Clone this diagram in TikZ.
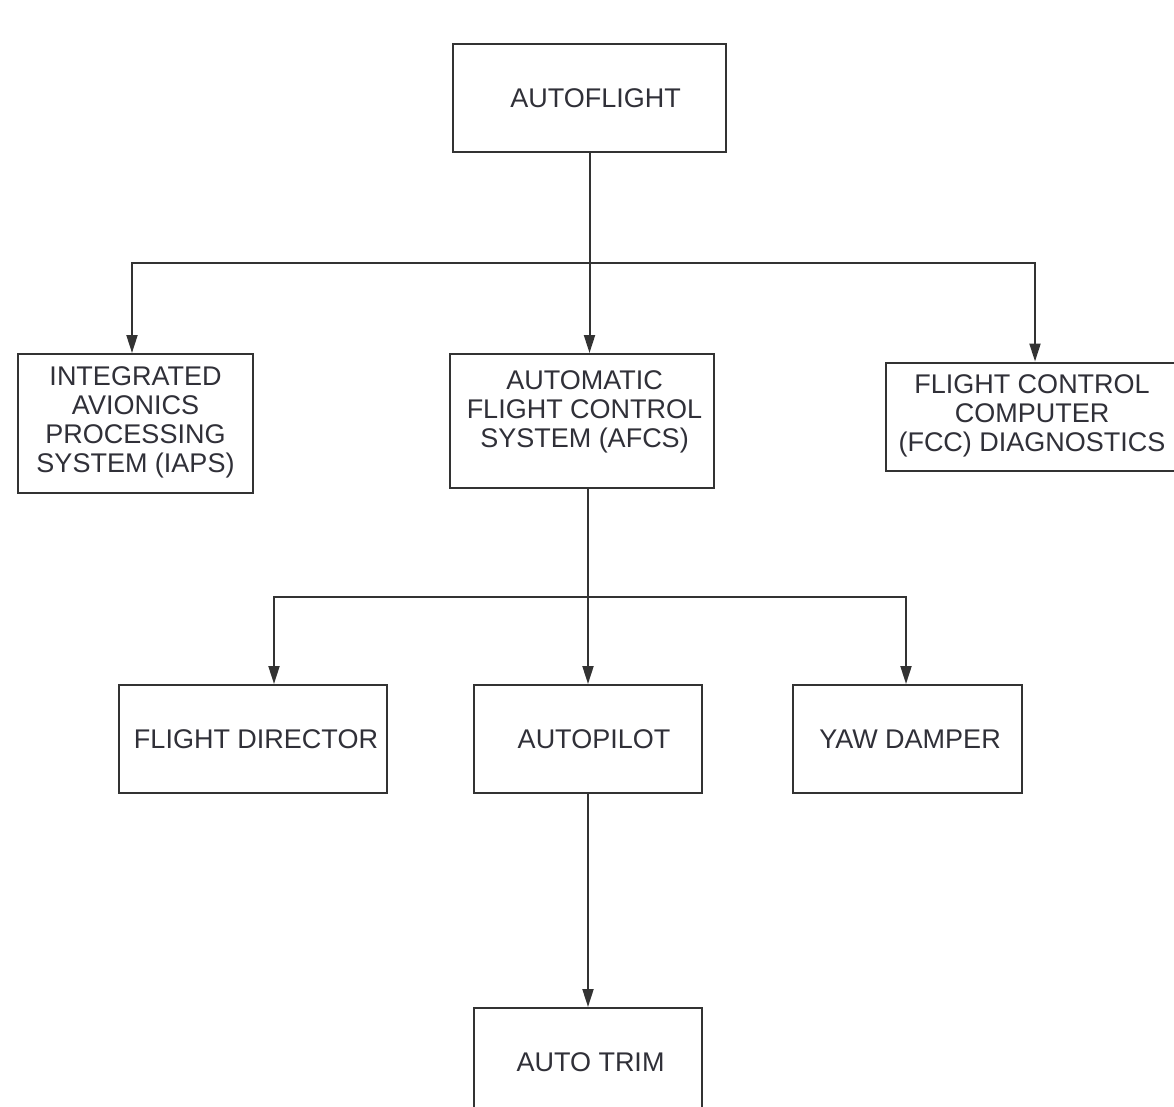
\documentclass[tikz,border=0pt]{standalone}
\usepackage{fontspec}
\setmainfont{Liberation Sans}
\usetikzlibrary{arrows.meta}
\definecolor{txt}{HTML}{303038}
\definecolor{ln}{HTML}{333333}
\newcommand{\mylines}[1]{\begin{tabular}{@{}c@{}}#1\end{tabular}}
\tikzset{
  box/.style={draw=ln, line width=2pt, rectangle, inner sep=0pt, align=center,
    text=txt, font=\fontsize{27}{29}\selectfont},
  conn/.style={draw=ln, line width=2pt},
  arr/.style={conn, -{Triangle[length=18pt,width=11pt]}}
}
\begin{document}
\begin{tikzpicture}[x=1pt,y=-1pt]
\clip (0,0) rectangle (1174,1107);
\fill[white] (0,0) rectangle (1174,1107);

\node[box, minimum width=273pt, minimum height=108pt] (af) at (589.5,98) {\hspace*{12pt}AUTOFLIGHT};
\node[box, minimum width=235pt, minimum height=139pt] (iaps) at (135.5,423.5)
  {\mylines{INTEGRATED\\AVIONICS\\PROCESSING\\SYSTEM (IAPS)}};
\node[box, minimum width=264pt, minimum height=134pt] (afcs) at (581.5,421)
  {\hspace*{6pt}\raisebox{8pt}[\height][\depth]{\mylines{AUTOMATIC\\FLIGHT CONTROL\\SYSTEM (AFCS)}}};
\node[box, minimum width=292pt, minimum height=108pt] (fcc) at (1032,416.5)
  {\mylines{FLIGHT CONTROL\\COMPUTER\\(FCC) DIAGNOSTICS}};

\node[box, minimum width=268pt, minimum height=108pt] (fd) at (253,739) {\hspace*{6pt}FLIGHT DIRECTOR};
\node[box, minimum width=228pt, minimum height=108pt] (ap) at (588,739) {\hspace*{12pt}AUTOPILOT};
\node[box, minimum width=229pt, minimum height=108pt] (yd) at (907.5,739) {\hspace*{5pt}YAW DAMPER};
\node[box, minimum width=228pt, minimum height=108pt] (at) at (588,1062) {\hspace*{5pt}AUTO TRIM};

\coordinate (j1) at (589.5,263);
\coordinate (j2) at (588,597);

\draw[arr] (af.south) -- (af.south |- afcs.north);
\draw[arr] (j1) -| ([xshift=-3.5pt]iaps.north);
\draw[arr] (j1) -| ([xshift=3pt]fcc.north);

\draw[arr] (ap.north |- afcs.south) -- (ap.north);
\draw[arr] (j2) -| ([xshift=21pt]fd.north);
\draw[arr] (j2) -| ([xshift=-1.5pt]yd.north);

\draw[arr] (ap.south) -- (at.north);
\end{tikzpicture}
\end{document}
